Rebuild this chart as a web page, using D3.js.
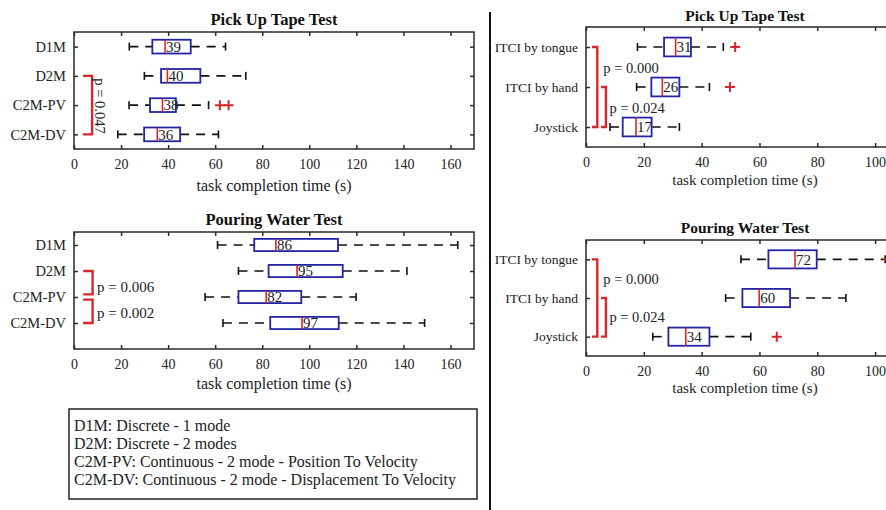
<!DOCTYPE html>
<html>
<head>
<meta charset="utf-8">
<script src="https://cdn.jsdelivr.net/npm/d3@7"></script>
<style>
  body { margin: 0; background: #fff; }
  svg { display: block; }
  svg text { font-family: "Liberation Serif", "DejaVu Serif", serif; }
</style>
</head>
<body>
<svg width="886" height="510"></svg>
<script>
// categories
const leftCats = ['D1M', 'D2M', 'C2M-PV', 'C2M-DV'];
const rightCats = ['ITCI by tongue', 'ITCI by hand', 'Joystick'];

// box stats: [lower whisker, q1, median, q3, upper whisker]
const tapeLeft = [[23.5, 33.3, 38.7, 49.6, 64.4], [29.9, 37, 39.7, 53.7, 73], [23.4, 32.3, 37.6, 43.3, 57.2], [18.6, 29.8, 35.4, 45.1, 61.4]];
const tapeLeftOut = [[], [], [62, 65.7], []];
const tapeLeftLabels = ['39', '40', '38', '36'];

const waterLeft = [[61, 76.6, 85.8, 112.2, 163.1], [69.9, 82.7, 94.8, 114.2, 141.5], [55.7, 69.9, 81.7, 96.6, 119.9], [63.3, 83.4, 96.9, 112.5, 149]];
const waterLeftOut = [[], [], [], []];
const waterLeftLabels = ['86', '95', '82', '97'];

const tapeRight = [[17.8, 27, 31, 36.3, 47.5], [17.5, 22.6, 26.4, 32.3, 42.7], [8.3, 12.7, 17.3, 22.7, 32.3]];
const tapeRightOut = [[51.6], [49.8], []];
const tapeRightLabels = ['31', '26', '17'];

const waterRight = [[53.6, 63.1, 72.3, 79.8, 103.5], [48.3, 54.1, 59.9, 70.6, 89.9], [23.1, 28.5, 34.5, 42.7, 57]];
const waterRightOut = [[104.3], [], [66]];
const waterRightLabels = ['72', '60', '34'];

const leftTicks = [0, 20, 40, 60, 80, 100, 120, 140, 160];
const rightTicks = [0, 20, 40, 60, 80, 100];

// significance brackets: rows (0-based), x extent in data units, p text and its anchor
const tapeLeftSig = [{ from: 1, to: 3, x0: 3.8, x1: 7.7, text: 'p = 0.047', tx: 11, ty: 3.03, rotate: true }];
const waterLeftSig = [
  { from: 1, to: 2, off1: -0.1, x0: 3.9, x1: 7.9, text: 'p = 0.006', tx: 9.8, ty: 2.62 },
  { from: 2, to: 3, off0: 0.1, x0: 3.9, x1: 7.9, text: 'p = 0.002', tx: 9.8, ty: 3.62 }
];
const tapeRightSig = [
  { from: 0, to: 2, x0: 2, x1: 3.9, text: 'p = 0.000', tx: 6, ty: 1.52 },
  { from: 1, to: 2, x0: 5.2, x1: 6.9, text: 'p = 0.024', tx: 8.1, ty: 2.52 }
];
const waterRightSig = [
  { from: 0, to: 2, x0: 2, x1: 3.9, text: 'p = 0.000', tx: 6, ty: 1.51 },
  { from: 1, to: 2, x0: 5.2, x1: 6.9, text: 'p = 0.024', tx: 8.1, ty: 2.48 }
];

const legendLines = [
  'D1M: Discrete - 1 mode',
  'D2M: Discrete - 2 modes',
  'C2M-PV: Continuous - 2 mode - Position To Velocity',
  'C2M-DV: Continuous - 2 mode - Displacement To Velocity'
];

const BLUE = '#2424a6', RED = '#d8262a', AX = '#2a2a2a';
const SERIF = 'Liberation Serif';
const svg = d3.select('svg');

function panel(o) {
  const g = svg.append('g');
  const x = d3.scaleLinear().domain(o.xdom).range([o.left, o.right]);
  const y = d3.scaleLinear().domain(o.ydom).range([o.top, o.bottom]);
  const bh = Math.abs(y(1.47) - y(1));
  const cap = o.cap;

  g.append('defs').append('clipPath').attr('id', o.id)
    .append('rect').attr('x', o.left).attr('y', o.top)
    .attr('width', o.right - o.left).attr('height', o.bottom - o.top);

  // frame
  g.append('rect').attr('x', o.left).attr('y', o.top)
    .attr('width', o.right - o.left).attr('height', o.bottom - o.top)
    .attr('fill', 'none').attr('stroke', AX).attr('stroke-width', 1.5);

  // x ticks inward, bottom and top
  g.append('g').attr('transform', `translate(0,${o.bottom})`)
    .call(d3.axisBottom(x).tickValues(o.ticks).tickSize(-4).tickFormat(d => d))
    .attr('font-family', SERIF)
    .call(a => a.select('.domain').remove())
    .call(a => a.selectAll('line').attr('stroke', AX).attr('stroke-width', 1.5))
    .call(a => a.selectAll('text').attr('y', 10).attr('dy', '0.71em')
      .attr('font-size', o.fs).attr('fill', '#222'));
  g.append('g').attr('transform', `translate(0,${o.top})`)
    .call(d3.axisTop(x).tickValues(o.ticks).tickSize(-4).tickFormat(''))
    .call(a => a.select('.domain').remove())
    .call(a => a.selectAll('line').attr('stroke', AX).attr('stroke-width', 1.5));

  // y ticks inward, left and right
  const rows = o.cats.map((c, i) => i + 1);
  g.append('g').attr('transform', `translate(${o.left},0)`)
    .call(d3.axisLeft(y).tickValues(rows).tickSize(-4).tickFormat(d => o.cats[d - 1]))
    .attr('font-family', SERIF)
    .call(a => a.select('.domain').remove())
    .call(a => a.selectAll('line').attr('stroke', AX).attr('stroke-width', 1.5))
    .call(a => a.selectAll('text').attr('x', -8)
      .attr('font-size', o.yfs).attr('fill', '#222'));
  g.append('g').attr('transform', `translate(${o.right},0)`)
    .call(d3.axisRight(y).tickValues(rows).tickSize(-4).tickFormat(''))
    .call(a => a.select('.domain').remove())
    .call(a => a.selectAll('line').attr('stroke', AX).attr('stroke-width', 1.5));

  const marks = g.append('g').attr('clip-path', `url(#${o.id})`);
  o.stats.forEach((s, i) => {
    const cy = y(i + 1);
    // dashed whiskers
    marks.append('line').attr('x1', x(s[0])).attr('x2', x(s[1])).attr('y1', cy).attr('y2', cy)
      .attr('stroke', '#111').attr('stroke-width', 1.6).attr('stroke-dasharray', '9,7');
    marks.append('line').attr('x1', x(s[3])).attr('x2', x(s[4])).attr('y1', cy).attr('y2', cy)
      .attr('stroke', '#111').attr('stroke-width', 1.6).attr('stroke-dasharray', '9,7');
    // caps
    [s[0], s[4]].forEach(v => marks.append('line')
      .attr('x1', x(v)).attr('x2', x(v)).attr('y1', cy - cap).attr('y2', cy + cap)
      .attr('stroke', '#111').attr('stroke-width', 1.6));
    // box
    marks.append('rect').attr('x', x(s[1])).attr('y', cy - bh / 2)
      .attr('width', x(s[3]) - x(s[1])).attr('height', bh)
      .attr('fill', '#fff').attr('stroke', BLUE).attr('stroke-width', 1.8);
    // median
    marks.append('line').attr('x1', x(s[2])).attr('x2', x(s[2]))
      .attr('y1', cy - bh / 2).attr('y2', cy + bh / 2)
      .attr('stroke', RED).attr('stroke-width', 1.6);
    marks.append('text').attr('x', x(s[2]) + 1).attr('y', cy).attr('dy', '0.35em')
      .attr('font-size', o.mfs).attr('fill', '#222').text(o.labels[i]);
    // outliers
    o.out[i].forEach(v => {
      marks.append('path')
        .attr('d', `M${x(v) - 5},${cy}H${x(v) + 5}M${x(v)},${cy - 5}V${cy + 5}`)
        .attr('stroke', RED).attr('stroke-width', 2).attr('fill', 'none');
    });
  });

  // significance brackets
  o.sig.forEach(b => {
    const ya = y(b.from + 1 + (b.off0 || 0)), yb = y(b.to + 1 + (b.off1 || 0));
    g.append('path')
      .attr('d', `M${x(b.x0)},${ya}H${x(b.x1)}V${yb}H${x(b.x0)}`)
      .attr('fill', 'none').attr('stroke', RED).attr('stroke-width', 2.4);
    const t = g.append('text').attr('font-size', o.pfs).attr('fill', '#222').text(b.text);
    if (b.rotate) {
      t.attr('text-anchor', 'middle').attr('dy', '0.35em')
        .attr('transform', `translate(${x(b.tx)},${y(b.ty)}) rotate(90)`);
    } else {
      t.attr('x', x(b.tx)).attr('y', y(b.ty)).attr('dy', '0.35em');
    }
  });

  // title and axis label
  const cx = (o.left + o.right) / 2;
  g.append('text').attr('x', cx).attr('y', o.titleY).attr('text-anchor', 'middle')
    .attr('font-weight', 'bold').attr('font-size', o.tfs).attr('fill', '#111').text(o.title);
  g.append('text').attr('x', cx).attr('y', o.labelY).attr('text-anchor', 'middle')
    .attr('font-size', o.lfs).attr('fill', '#222').text('task completion time (s)');
}

panel({ id: 'c1', left: 74, right: 474, top: 32, bottom: 149, xdom: [0, 170], ydom: [0.5, 4.5],
  cats: leftCats, stats: tapeLeft, out: tapeLeftOut, labels: tapeLeftLabels, sig: tapeLeftSig,
  ticks: leftTicks, title: 'Pick Up Tape Test', titleY: 25, labelY: 191,
  fs: 14, mfs: 15, yfs: 14.5, pfs: 14.5, tfs: 16.5, lfs: 16, cap: 4 });

panel({ id: 'c2', left: 74, right: 474, top: 232, bottom: 349, xdom: [0, 170], ydom: [0.5, 5],
  cats: leftCats, stats: waterLeft, out: waterLeftOut, labels: waterLeftLabels, sig: waterLeftSig,
  ticks: leftTicks, title: 'Pouring Water Test', titleY: 225, labelY: 389,
  fs: 14, mfs: 15, yfs: 14.5, pfs: 15, tfs: 16.5, lfs: 16, cap: 4 });

panel({ id: 'c3', left: 586, right: 904, top: 27, bottom: 147, xdom: [0, 110], ydom: [0.5, 3.5],
  cats: rightCats, stats: tapeRight, out: tapeRightOut, labels: tapeRightLabels, sig: tapeRightSig,
  ticks: rightTicks, title: 'Pick Up Tape Test', titleY: 21, labelY: 185,
  fs: 14, mfs: 15, yfs: 13.5, pfs: 14.5, tfs: 15.5, lfs: 15, cap: 4 });

panel({ id: 'c4', left: 586, right: 904, top: 240, bottom: 356, xdom: [0, 110], ydom: [0.5, 3.5],
  cats: rightCats, stats: waterRight, out: waterRightOut, labels: waterRightLabels, sig: waterRightSig,
  ticks: rightTicks, title: 'Pouring Water Test', titleY: 233, labelY: 393,
  fs: 14, mfs: 15, yfs: 13.5, pfs: 14.5, tfs: 15.5, lfs: 15, cap: 4 });

// divider
svg.append('line').attr('x1', 490).attr('x2', 490).attr('y1', 12).attr('y2', 510)
  .attr('stroke', '#111').attr('stroke-width', 2);

// legend box
const lg = svg.append('g');
lg.append('rect').attr('x', 69).attr('y', 409).attr('width', 408).attr('height', 90)
  .attr('fill', '#fff').attr('stroke', '#222').attr('stroke-width', 1.5);
lg.selectAll('text').data(legendLines).enter().append('text')
  .attr('x', 74).attr('y', (d, i) => 425 + i * 18.2).attr('dy', '0.35em')
  .attr('font-size', 16).attr('fill', '#222').text(d => d);
</script>
</body>
</html>
